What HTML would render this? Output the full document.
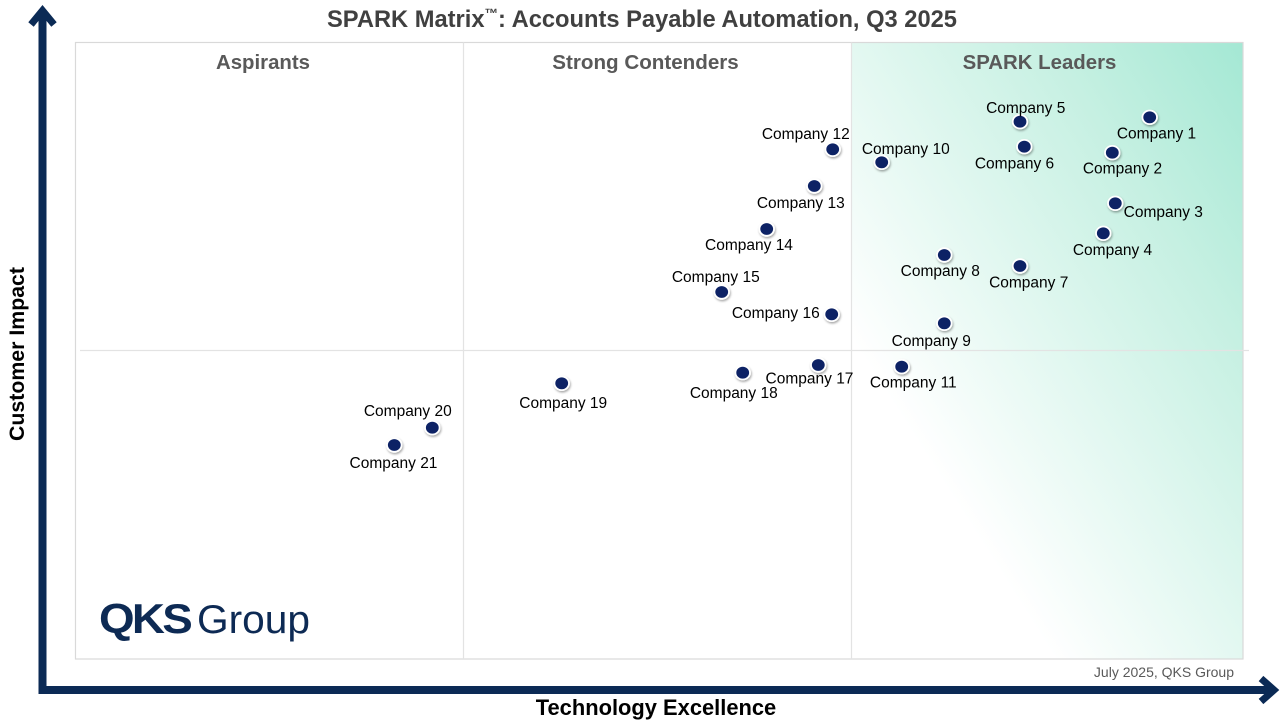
<!DOCTYPE html>
<html>
<head>
<meta charset="utf-8">
<style>
  html, body { margin:0; padding:0; background:#fff; }
  body { width:1280px; height:720px; overflow:hidden; }
  svg { display:block; }
  text { font-family: "Liberation Sans", Arial, sans-serif; }
</style>
</head>
<body>
<svg width="1280" height="720" viewBox="0 0 1280 720" xmlns="http://www.w3.org/2000/svg">
  <defs>
    <linearGradient id="lead" x1="0" y1="1" x2="1" y2="0">
      <stop offset="0" stop-color="#ffffff"/>
      <stop offset="0.26" stop-color="#ffffff"/>
      <stop offset="0.5" stop-color="#e3f8f1"/>
      <stop offset="0.75" stop-color="#c6f0e2"/>
      <stop offset="1" stop-color="#a4e8d4"/>
    </linearGradient>
    <filter id="sh" x="-50%" y="-50%" width="200%" height="200%">
      <feDropShadow dx="0.8" dy="1.5" stdDeviation="1" flood-color="#000" flood-opacity="0.35"/>
    </filter>
  </defs>

  <!-- Title -->
  <text x="327" y="27" font-size="23.7" font-weight="bold" fill="#404040">SPARK Matrix<tspan font-size="13.5" dy="-9">™</tspan><tspan dy="9">: Accounts Payable Automation, Q3 2025</tspan></text>

  <!-- Leaders quadrant gradient -->
  <rect x="851.5" y="42.5" width="391.5" height="616.5" fill="url(#lead)"/>

  <!-- Plot border -->
  <rect x="75.5" y="42.5" width="1167.5" height="616.5" fill="none" stroke="#d9d9d9" stroke-width="1.2"/>
  <!-- Dividers -->
  <line x1="463.5" y1="42.5" x2="463.5" y2="659" stroke="#e3e3e3" stroke-width="1.2"/>
  <line x1="851.5" y1="42.5" x2="851.5" y2="659" stroke="#e3e3e3" stroke-width="1.2"/>
  <line x1="80" y1="350.5" x2="1249" y2="350.5" stroke="#e3e3e3" stroke-width="1.2"/>

  <!-- Quadrant labels -->
  <text x="263" y="69" font-size="20.4" font-weight="bold" fill="#595959" text-anchor="middle">Aspirants</text>
  <text x="645.5" y="69" font-size="20.6" font-weight="bold" fill="#595959" text-anchor="middle">Strong Contenders</text>
  <text x="1039.5" y="69" font-size="20.4" font-weight="bold" fill="#595959" text-anchor="middle">SPARK Leaders</text>

  <!-- Axes -->
  <line x1="42.5" y1="10" x2="42.5" y2="694" stroke="#0b2a55" stroke-width="8"/>
  <line x1="38.5" y1="690" x2="1274" y2="690" stroke="#0b2a55" stroke-width="8"/>
  <polyline points="31,24.5 42.5,10.5 54,24.5" fill="none" stroke="#0b2a55" stroke-width="7" stroke-linejoin="miter" stroke-miterlimit="10"/>
  <polyline points="1261,678.5 1274,690 1261,701.5" fill="none" stroke="#0b2a55" stroke-width="7" stroke-linejoin="miter" stroke-miterlimit="10"/>

  <!-- Axis labels -->
  <text transform="translate(24,354) rotate(-90)" font-size="21.3" font-weight="bold" fill="#000" text-anchor="middle">Customer Impact</text>
  <text x="656" y="715" font-size="21.9" font-weight="bold" fill="#000" text-anchor="middle">Technology Excellence</text>

  <!-- Footer note -->
  <text x="1234" y="677" font-size="14" fill="#595959" text-anchor="end">July 2025, QKS Group</text>

  <!-- Logo -->
  <text x="99" y="633" font-size="42" font-weight="bold" fill="#0d2a54" letter-spacing="-2.5" textLength="91" lengthAdjust="spacingAndGlyphs">QKS</text>
  <text x="197" y="633" font-size="40" fill="#0d2a54" textLength="113" lengthAdjust="spacingAndGlyphs">Group</text>

  <!-- Dots -->
  <g fill="#0b2265" stroke="#ffffff" stroke-width="1.8" filter="url(#sh)">
    <ellipse cx="1149.7" cy="117.3" rx="7.3" ry="6.8"/>
    <ellipse cx="1112.3" cy="152.7" rx="7.3" ry="6.8"/>
    <ellipse cx="1115.3" cy="203.3" rx="7.3" ry="6.8"/>
    <ellipse cx="1103.3" cy="233.3" rx="7.3" ry="6.8"/>
    <ellipse cx="1020" cy="121.7" rx="7.3" ry="6.8"/>
    <ellipse cx="1024.3" cy="146.7" rx="7.3" ry="6.8"/>
    <ellipse cx="1020" cy="266" rx="7.3" ry="6.8"/>
    <ellipse cx="944.3" cy="255" rx="7.3" ry="6.8"/>
    <ellipse cx="944.3" cy="323.3" rx="7.3" ry="6.8"/>
    <ellipse cx="881.7" cy="162.3" rx="7.3" ry="6.8"/>
    <ellipse cx="901.7" cy="366.7" rx="7.3" ry="6.8"/>
    <ellipse cx="832.7" cy="149.3" rx="7.3" ry="6.8"/>
    <ellipse cx="814.3" cy="186" rx="7.3" ry="6.8"/>
    <ellipse cx="766.7" cy="229" rx="7.3" ry="6.8"/>
    <ellipse cx="721.7" cy="292" rx="7.3" ry="6.8"/>
    <ellipse cx="831.7" cy="314.3" rx="7.3" ry="6.8"/>
    <ellipse cx="818.3" cy="365" rx="7.3" ry="6.8"/>
    <ellipse cx="742.7" cy="372.7" rx="7.3" ry="6.8"/>
    <ellipse cx="561.7" cy="383.3" rx="7.3" ry="6.8"/>
    <ellipse cx="432.3" cy="427.7" rx="7.3" ry="6.8"/>
    <ellipse cx="394.3" cy="445" rx="7.3" ry="6.8"/>
  </g>

  <!-- Dot labels -->
  <g font-size="15.5" fill="#000" text-anchor="middle">
    <text x="1156.5" y="138.5">Company 1</text>
    <text x="1122.5" y="173.5">Company 2</text>
    <text x="1163.3" y="217.2">Company 3</text>
    <text x="1112.5" y="255.2">Company 4</text>
    <text x="1025.7" y="112.9">Company 5</text>
    <text x="1014.5" y="168.5">Company 6</text>
    <text x="1028.7" y="287.5">Company 7</text>
    <text x="940.3" y="276.2">Company 8</text>
    <text x="931.3" y="345.9">Company 9</text>
    <text x="905.8" y="154.2">Company 10</text>
    <text x="913.3" y="387.5">Company 11</text>
    <text x="805.8" y="139.2">Company 12</text>
    <text x="800.8" y="207.9">Company 13</text>
    <text x="749" y="250.2">Company 14</text>
    <text x="715.8" y="281.9">Company 15</text>
    <text x="775.8" y="317.9">Company 16</text>
    <text x="809.5" y="383.5">Company 17</text>
    <text x="733.8" y="397.9">Company 18</text>
    <text x="563.2" y="407.9">Company 19</text>
    <text x="407.8" y="415.9">Company 20</text>
    <text x="393.5" y="467.9">Company 21</text>
  </g>
</svg>
</body>
</html>
